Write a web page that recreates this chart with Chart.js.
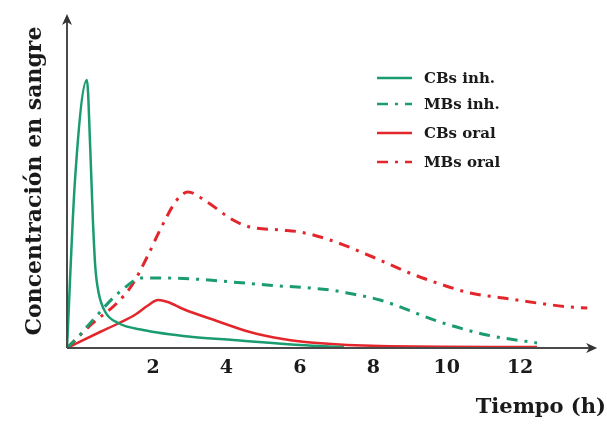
<!DOCTYPE html>
<html><head><meta charset="utf-8">
<script src="https://cdn.jsdelivr.net/npm/chart.js@4.4.1/dist/chart.umd.min.js"></script>
<style>html,body{margin:0;padding:0;background:#fff}#wrap{width:607px;height:425px}</style>
</head><body><div id="wrap"><canvas id="c" width="607" height="425"></canvas></div>
<script>
const xTickLabels = [2, 4, 6, 8, 10, 12];
const seriesNames = ["CBs inh.", "MBs inh.", "CBs oral", "MBs oral"];

const cbsInhX = [-0.343, -0.125, 0.2, 0.29, 0.36, 0.43, 0.52, 0.7, 1.05, 1.73, 3.09, 4.18, 6.0, 7.2];
const cbsInhY = [0, 168, 268, 200, 130, 80, 55, 36, 25, 18, 11, 8, 3, 1];

const mbsInhX = [-0.343, 0.01, 0.365, 0.91, 1.29, 1.65, 2.19, 3.09, 5.1, 6.82, 7.29, 8.18, 9.82, 11.1, 12.46];
const mbsInhY = [0, 13, 28, 50, 62, 70, 70, 69, 63, 58, 55, 48, 26, 13, 5];

const cbsOralX = [-0.343, 0.556, 1.02, 1.5, 1.84, 2.14, 2.4, 2.82, 3.74, 4.64, 5.54, 6.47, 8.18, 12.46];
const cbsOralY = [0, 16, 24, 33, 42, 48, 46, 39, 27, 16, 9, 5, 2, 1];

const mbsOralX = [-0.343, 0.365, 1.02, 1.43, 1.84, 2.19, 2.65, 2.95, 3.47, 4.18, 4.64, 5.46, 6.0, 6.82, 7.99, 8.92, 9.74, 10.64, 11.54, 12.46, 13.36, 13.83];
const mbsOralY = [0, 25, 45, 63, 91, 118, 148, 156, 146, 128, 121, 118, 116, 108, 91, 76, 65, 55, 50, 45, 41, 40];

const GREEN = '#1b9b70';
const RED = '#e3262b';
const DASHDOT = [11, 7, 3, 7];

function pts(xs, ys) { return xs.map((x, i) => ({x: x, y: ys[i]})); }

const SERIF = '"DejaVu Serif", "Liberation Serif", serif';

const axesPlugin = {
  id: 'axesArrows',
  afterDatasetsDraw(chart) {
    const {ctx, chartArea, scales} = chart;
    const x0 = chartArea.left, y0 = chartArea.bottom;
    const xEnd = scales.x.getPixelForValue(14.1);
    const yTop = scales.y.getPixelForValue(scales.y.max);
    ctx.save();
    ctx.strokeStyle = '#4a4a4a';
    ctx.fillStyle = '#333';
    ctx.lineWidth = 2;
    ctx.beginPath();
    ctx.moveTo(x0, y0); ctx.lineTo(xEnd - 6, y0);
    ctx.moveTo(x0, y0); ctx.lineTo(x0, yTop + 6);
    ctx.stroke();
    ctx.beginPath();
    ctx.moveTo(xEnd, y0); ctx.lineTo(xEnd - 11, y0 - 5); ctx.lineTo(xEnd - 8, y0); ctx.lineTo(xEnd - 11, y0 + 5); ctx.closePath();
    ctx.fill();
    ctx.beginPath();
    ctx.moveTo(x0, yTop); ctx.lineTo(x0 - 5, yTop + 11); ctx.lineTo(x0, yTop + 8); ctx.lineTo(x0 + 5, yTop + 11); ctx.closePath();
    ctx.fill();
    ctx.restore();
  }
};

const legendPlugin = {
  id: 'innerLegend',
  afterDraw(chart) {
    const {ctx} = chart;
    const rows = [78, 104, 133, 162];
    ctx.save();
    ctx.font = 'bold 15px ' + SERIF;
    ctx.textBaseline = 'middle';
    ctx.textAlign = 'left';
    chart.data.datasets.forEach((ds, i) => {
      const y = rows[i];
      ctx.strokeStyle = ds.borderColor;
      ctx.lineWidth = 2.5;
      ctx.setLineDash(ds.borderDash || []);
      ctx.beginPath(); ctx.moveTo(377, y); ctx.lineTo(412, y); ctx.stroke();
      ctx.setLineDash([]);
      ctx.fillStyle = '#1a1a1a';
      ctx.fillText(ds.label, 424, y + 1);
    });
    ctx.restore();
  }
};

new Chart(document.getElementById('c'), {
  type: 'line',
  data: {
    datasets: [
      {label: seriesNames[0], data: pts(cbsInhX, cbsInhY), borderColor: GREEN, borderWidth: 2.5, pointRadius: 0, cubicInterpolationMode: 'monotone', fill: false},
      {label: seriesNames[1], data: pts(mbsInhX, mbsInhY), borderColor: GREEN, borderWidth: 3, borderDash: DASHDOT, pointRadius: 0, cubicInterpolationMode: 'monotone', fill: false},
      {label: seriesNames[2], data: pts(cbsOralX, cbsOralY), borderColor: RED, borderWidth: 2.5, pointRadius: 0, cubicInterpolationMode: 'monotone', fill: false},
      {label: seriesNames[3], data: pts(mbsOralX, mbsOralY), borderColor: RED, borderWidth: 3, borderDash: DASHDOT, pointRadius: 0, cubicInterpolationMode: 'monotone', fill: false}
    ]
  },
  options: {
    responsive: false,
    animation: false,
    devicePixelRatio: 1,
    layout: {padding: {left: 0, right: 1, top: 14, bottom: 0}},
    plugins: {legend: {display: false}, tooltip: {enabled: false}},
    scales: {
      x: {
        type: 'linear', min: -0.343, max: 14.34,
        grid: {display: false, drawTicks: false},
        border: {display: false},
        afterBuildTicks: (s) => { s.ticks = xTickLabels.map(v => ({value: v})); },
        afterFit: (s) => { s.height = 77; },
        ticks: {padding: 9, color: '#1a1a1a', font: {family: SERIF, size: 19, weight: 'bold'}, maxRotation: 0, autoSkip: false},
        title: {display: true, text: 'Tiempo (h)', align: 'end', color: '#1a1a1a', font: {family: SERIF, size: 21, weight: 'bold'}, padding: {top: 0, bottom: 5}}
      },
      y: {
        min: 0, max: 334,
        grid: {display: false, drawTicks: false},
        border: {display: false},
        ticks: {display: false},
        afterFit: (s) => { s.width = 67; },
        title: {display: true, text: 'Concentración en sangre', color: '#1a1a1a', font: {family: SERIF, size: 22, weight: 'bold'}, padding: {top: 22, bottom: 0}}
      }
    }
  },
  plugins: [axesPlugin, legendPlugin]
});
</script></body></html>
